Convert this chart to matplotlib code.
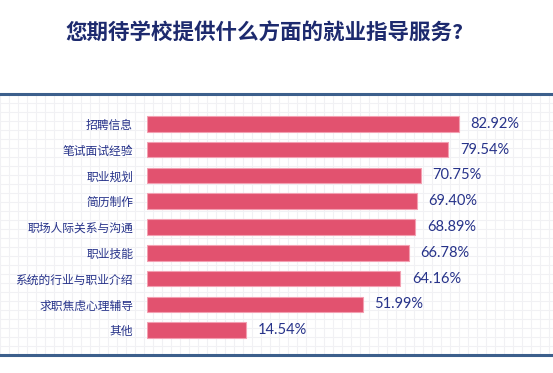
import matplotlib
matplotlib.use("Agg")
import matplotlib.pyplot as plt
from matplotlib.ticker import MultipleLocator

plt.rcParams['font.family'] = ['Noto Sans CJK SC', 'DejaVu Sans']

# data
title = '您期待学校提供什么方面的就业指导服务?'
items = ['招聘信息', '笔试面试经验', '职业规划', '简历制作', '职场人际关系与沟通',
         '职业技能', '系统的行业与职业介绍', '求职焦虑心理辅导', '其他']
values = [82.92, 79.54, 70.75, 69.40, 68.89, 66.78, 64.16, 51.99, 14.54]

navy = '#27338a'
bar_color = '#e2526f'
base = -17.5  # bars start left of zero, like the original infographic

W, H = 553, 373
fig = plt.figure(figsize=(W / 100, H / 100), dpi=100)

# grid background panel
box_top, box_bot = 94, 355
bg = fig.add_axes([0, 1 - box_bot / H, 1, (box_bot - box_top) / H])
bg.set_xlim(0, W)
bg.set_ylim(0, box_bot - box_top)
bg.xaxis.set_major_locator(MultipleLocator(9))
bg.yaxis.set_major_locator(MultipleLocator(9))
bg.grid(True, color='#f1f1f4', lw=0.8)
bg.tick_params(length=0, labelbottom=False, labelleft=False)
for s in ['left', 'right']:
    bg.spines[s].set_visible(False)
for s in ['top', 'bottom']:
    bg.spines[s].set_color('#3c5f8c')
    bg.spines[s].set_linewidth(2.2)
bg.set_zorder(0)

fig.text(264 / W, 1 - 33 / H, title, ha='center', va='center',
         fontsize=15.5, fontweight='bold', color='#1d2a6e')

# bar chart axes: x0 at pixel 147, scale ~3.104 px per %
ax = fig.add_axes([147 / W, 1 - 343 / H, (553 - 147) / W, (343 - 111) / H])
ax.patch.set_visible(False)
y = list(range(len(items)))
ax.barh(y, [v - base for v in values], left=base, height=0.6,
        color=bar_color, edgecolor='#f3a0b2', linewidth=0.8)
for yi, v in zip(y, values):
    ax.text(v + 3.8, yi, f'{v:.2f}%', va='center', ha='left',
            fontsize=10.5, color=navy, family=['Lato', 'DejaVu Sans'])
ax.set_yticks(y)
ax.set_yticklabels(items, fontsize=8.5, color=navy)
ax.set_xlim(base, base + (553 - 147) / 3.104)
ax.set_ylim(len(items) - 0.5, -0.5)
ax.tick_params(axis='y', length=0, pad=10)
ax.tick_params(axis='x', length=0, labelbottom=False)
for s in ax.spines.values():
    s.set_visible(False)

fig.savefig('out.png', dpi=100)
